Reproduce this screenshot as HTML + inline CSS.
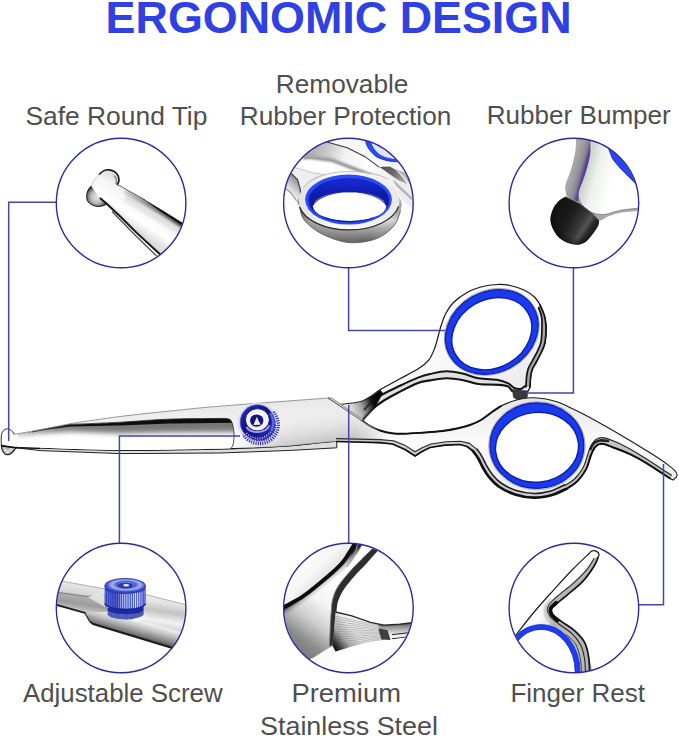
<!DOCTYPE html>
<html lang="en">
<head>
<meta charset="utf-8">
<title>Ergonomic Design</title>
<style>
  html, body { margin: 0; padding: 0; background: #ffffff; }
  body { width: 679px; height: 738px; overflow: hidden; position: relative; }
  svg { position: absolute; left: 0; top: 0; display: block; }
  text { font-family: "Liberation Sans", sans-serif; }
  .title { font-weight: 700; font-size: 44.5px; fill: #2f41e3; }
  .lbl { font-size: 26px; fill: #4f4f4f; }
</style>
</head>
<body>
<svg width="679" height="738" viewBox="0 0 679 738">
  <defs>
    <clipPath id="c1"><circle cx="121.1" cy="203" r="64.4"/></clipPath>
    <clipPath id="c2"><circle cx="348.4" cy="203" r="64.4"/></clipPath>
    <clipPath id="c3"><circle cx="573.9" cy="203" r="64.4"/></clipPath>
    <clipPath id="c4"><circle cx="121.1" cy="608" r="64.4"/></clipPath>
    <clipPath id="c5"><circle cx="348.4" cy="608" r="64.4"/></clipPath>
    <clipPath id="c6"><circle cx="573.9" cy="608" r="64.4"/></clipPath>
    
    <linearGradient id="gSilver" x1="0" y1="0" x2="1" y2="1">
      <stop offset="0" stop-color="#ffffff"/><stop offset="0.55" stop-color="#f8f8f8"/><stop offset="1" stop-color="#e4e4e4"/>
    </linearGradient>
    <linearGradient id="gBlade" x1="0" y1="0" x2="0" y2="1">
      <stop offset="0" stop-color="#e6e6e6"/><stop offset="0.45" stop-color="#fbfbfb"/><stop offset="1" stop-color="#ececec"/>
    </linearGradient>
    <linearGradient id="gBrush" gradientUnits="userSpaceOnUse" x1="345" y1="412" x2="380" y2="396">
      <stop offset="0" stop-color="#888" stop-opacity="0"/><stop offset="0.45" stop-color="#555" stop-opacity="0.55"/><stop offset="0.75" stop-color="#111" stop-opacity="1"/><stop offset="1" stop-color="#000"/>
    </linearGradient>
    <linearGradient id="gPivot" gradientUnits="userSpaceOnUse" x1="300" y1="445" x2="345" y2="400">
      <stop offset="0" stop-color="#c9c9c9"/><stop offset="0.5" stop-color="#ececec"/><stop offset="1" stop-color="#ffffff"/>
    </linearGradient>
    <filter id="bl1" x="-10%" y="-50%" width="120%" height="200%"><feGaussianBlur stdDeviation="0.6"/></filter>
    <filter id="bl2" x="-10%" y="-100%" width="120%" height="300%"><feGaussianBlur stdDeviation="1.6 2.6"/></filter>
    <filter id="bl3" x="-20%" y="-20%" width="140%" height="140%"><feGaussianBlur stdDeviation="1.2"/></filter>
    
<linearGradient id="gPv" gradientUnits="userSpaceOnUse" x1="300" y1="400" x2="306" y2="447"><stop offset="0" stop-color="#fff" stop-opacity="0"/><stop offset="0.45" stop-color="#e6e6e6" stop-opacity="0.5"/><stop offset="1" stop-color="#bcbcbc" stop-opacity="1"/></linearGradient>
<linearGradient id="gPh" gradientUnits="userSpaceOnUse" x1="236" y1="0" x2="385" y2="0"><stop offset="0" stop-color="#fff" stop-opacity="0"/><stop offset="0.3" stop-color="#fff" stop-opacity="0.9"/><stop offset="0.8" stop-color="#fff" stop-opacity="1"/><stop offset="1" stop-color="#fff" stop-opacity="0"/></linearGradient>
<mask id="mPv" maskUnits="userSpaceOnUse" x="230" y="390" width="160" height="65"><rect x="230" y="390" width="160" height="65" fill="url(#gPh)"/></mask>
<clipPath id="cpH"><path d="M18 434.5C20.3 434.1 23 433.6 31.8 432C40.6 430.4 64.2 425.8 70.7 424.6C78.9 424.2 103.5 423.3 120 422.4C136.6 421.5 152.7 419.9 170 419.3C187.3 418.7 215 418.7 224 418.6C225.2 418.9 229.3 418.1 231 420.5C232.7 422.9 233.7 428.9 234 433C234.3 437.1 233.6 442.4 233 445C232.4 447.6 230.9 447.8 230.5 448.4C212.1 448.7 155.4 450.2 120 450C84.6 449.8 35 447.5 18 447C18 444.9 18 436.6 18 434.5Z"/></clipPath>
<linearGradient id="gFade" gradientUnits="userSpaceOnUse" x1="14" y1="0" x2="240" y2="0"><stop offset="0" stop-color="#fff" stop-opacity="0"/><stop offset="0.08" stop-color="#fff" stop-opacity="0.3"/><stop offset="0.2" stop-color="#fff" stop-opacity="0.8"/><stop offset="0.3" stop-color="#fff" stop-opacity="1"/><stop offset="0.8" stop-color="#fff" stop-opacity="1"/><stop offset="1" stop-color="#fff" stop-opacity="0.8"/></linearGradient>
<mask id="mFade" maskUnits="userSpaceOnUse" x="0" y="400" width="250" height="70"><rect x="0" y="400" width="250" height="70" fill="url(#gFade)"/></mask>
<clipPath id="cpK"><path d="M285 400L285 450L235 450L235 440L262 421Z"/></clipPath>
<linearGradient id="gScr" gradientUnits="userSpaceOnUse" x1="244" y1="408" x2="272" y2="438"><stop offset="0" stop-color="#2a2ab0"/><stop offset="0.35" stop-color="#14147a"/><stop offset="0.7" stop-color="#1a1a90"/><stop offset="1" stop-color="#3434c8"/></linearGradient>

    <linearGradient id="g1body" gradientUnits="userSpaceOnUse" x1="150" y1="200" x2="132" y2="228">
      <stop offset="0" stop-color="#e2e2e2"/><stop offset="0.25" stop-color="#f6f6f6"/><stop offset="0.7" stop-color="#ffffff"/><stop offset="1" stop-color="#dedede"/>
    </linearGradient>
    <linearGradient id="g1edge" gradientUnits="userSpaceOnUse" x1="120" y1="186" x2="186" y2="224">
      <stop offset="0" stop-color="#000" stop-opacity="0.1"/><stop offset="0.45" stop-color="#000" stop-opacity="0.55"/><stop offset="1" stop-color="#000" stop-opacity="1"/>
    </linearGradient>
    <radialGradient id="g1ball" gradientUnits="userSpaceOnUse" cx="97" cy="197" r="11">
      <stop offset="0" stop-color="#e6e6e6"/><stop offset="0.6" stop-color="#b5b5b5"/><stop offset="0.88" stop-color="#6a6a6a"/><stop offset="1" stop-color="#2a2a2a"/>
    </radialGradient>
    <filter id="b1a" x="-20%" y="-20%" width="140%" height="140%"><feGaussianBlur stdDeviation="1.5"/></filter>
    <filter id="b1b" x="-20%" y="-20%" width="140%" height="140%"><feGaussianBlur stdDeviation="0.5"/></filter>
    
<clipPath id="cp1b"><path d="M101 173C103.5 170.2 106 169.6 109.2 170C113 170.4 116.4 172 118 176C119.3 179.4 118.6 182.5 117.3 184.3L118.9 184.6L128.6 190.8L144.8 199.7L161 209.4L182 222.4L192 228L192 268L170 264L157.8 252.3L136.7 232.9L120.5 216.7L106.7 203.7L98 196L91.3 186C92 183 93.5 181 94.6 179.4Z"/></clipPath>

    <linearGradient id="g2wall" gradientUnits="userSpaceOnUse" x1="0" y1="212" x2="0" y2="244">
      <stop offset="0" stop-color="#bdbdbd"/><stop offset="0.26" stop-color="#e9e9e9"/><stop offset="0.5" stop-color="#a8a8a8"/><stop offset="0.82" stop-color="#727272"/><stop offset="1" stop-color="#555"/>
    </linearGradient>
    <linearGradient id="g2wallx" gradientUnits="userSpaceOnUse" x1="298" y1="0" x2="401" y2="0">
      <stop offset="0" stop-color="#4a4a4a" stop-opacity="0.8"/><stop offset="0.12" stop-color="#6a6a6a" stop-opacity="0.5"/><stop offset="0.3" stop-color="#808080" stop-opacity="0.15"/><stop offset="0.7" stop-color="#fff" stop-opacity="0"/><stop offset="1" stop-color="#777" stop-opacity="0.35"/>
    </linearGradient>
    <linearGradient id="g2top" gradientUnits="userSpaceOnUse" x1="300" y1="0" x2="400" y2="0">
      <stop offset="0" stop-color="#e4e4e4"/><stop offset="0.4" stop-color="#fbfbfb"/><stop offset="1" stop-color="#e9e9e9"/>
    </linearGradient>
    <linearGradient id="g2blue" gradientUnits="userSpaceOnUse" x1="0" y1="176" x2="0" y2="196">
      <stop offset="0" stop-color="#1a2cd0"/><stop offset="0.5" stop-color="#1424c4"/><stop offset="1" stop-color="#0c1aa6"/>
    </linearGradient>
    <linearGradient id="g2band" gradientUnits="userSpaceOnUse" x1="302" y1="150" x2="388" y2="170">
      <stop offset="0" stop-color="#a2a2a2"/><stop offset="0.28" stop-color="#c9c9c9"/><stop offset="0.5" stop-color="#f4f4f4"/><stop offset="0.8" stop-color="#ffffff"/><stop offset="1" stop-color="#ededed"/>
    </linearGradient>
    <filter id="b2a" x="-20%" y="-40%" width="140%" height="180%"><feGaussianBlur stdDeviation="1.3"/></filter>
    
<linearGradient id="g2dk" gradientUnits="userSpaceOnUse" x1="380" y1="168" x2="404" y2="180"><stop offset="0" stop-color="#4c4c4c"/><stop offset="0.55" stop-color="#6a6a6a"/><stop offset="1" stop-color="#a5a5a5"/></linearGradient>
<linearGradient id="g2side" gradientUnits="userSpaceOnUse" x1="298" y1="180" x2="287" y2="192"><stop offset="0" stop-color="#8e8e8e"/><stop offset="0.5" stop-color="#c9c9c9"/><stop offset="1" stop-color="#f4f4f4"/></linearGradient>

    <linearGradient id="g3band" gradientUnits="userSpaceOnUse" x1="566" y1="170" x2="588" y2="176">
      <stop offset="0" stop-color="#b4b4b4"/><stop offset="0.4" stop-color="#9f9f9f"/><stop offset="0.62" stop-color="#8a8796"/><stop offset="0.8" stop-color="#5a3b90"/><stop offset="1" stop-color="#6a5698"/>
    </linearGradient>
    <linearGradient id="g3in" gradientUnits="userSpaceOnUse" x1="586" y1="175" x2="612" y2="182">
      <stop offset="0" stop-color="#cfd6cf"/><stop offset="0.35" stop-color="#eef1ee"/><stop offset="1" stop-color="#ffffff"/>
    </linearGradient>
    <linearGradient id="g3bump" gradientUnits="userSpaceOnUse" x1="556" y1="212" x2="596" y2="238">
      <stop offset="0" stop-color="#141414"/><stop offset="0.3" stop-color="#1e1e1e"/><stop offset="0.55" stop-color="#3a3a3a"/><stop offset="0.68" stop-color="#5c5c5c"/><stop offset="0.8" stop-color="#2c2c2c"/><stop offset="1" stop-color="#101010"/>
    </linearGradient>
    <radialGradient id="g3bumpv" gradientUnits="userSpaceOnUse" cx="578" cy="214" r="34">
      <stop offset="0" stop-color="#000" stop-opacity="0"/><stop offset="0.7" stop-color="#000" stop-opacity="0.15"/><stop offset="1" stop-color="#000" stop-opacity="0.7"/>
    </radialGradient>
    

    <linearGradient id="g4a" gradientUnits="userSpaceOnUse" x1="120" y1="588" x2="112" y2="640">
      <stop offset="0" stop-color="#f4f4f4"/><stop offset="0.16" stop-color="#e2e2e2"/><stop offset="0.32" stop-color="#c4c4c4"/><stop offset="0.5" stop-color="#f2f2f2"/><stop offset="0.68" stop-color="#cdcdcd"/><stop offset="0.88" stop-color="#8a8a8a"/><stop offset="1" stop-color="#555"/>
    </linearGradient>
    <linearGradient id="g4l" gradientUnits="userSpaceOnUse" x1="80" y1="584" x2="76" y2="610">
      <stop offset="0" stop-color="#e9e9e9"/><stop offset="0.36" stop-color="#d6d6d6"/><stop offset="0.46" stop-color="#b0b0b0"/><stop offset="0.75" stop-color="#9c9c9c"/><stop offset="1" stop-color="#c4c4c4"/>
    </linearGradient>
    <linearGradient id="g4low" gradientUnits="userSpaceOnUse" x1="134" y1="620" x2="129" y2="638">
      <stop offset="0" stop-color="#ececec"/><stop offset="0.3" stop-color="#c2c2c2"/><stop offset="0.7" stop-color="#7a7a7a"/><stop offset="1" stop-color="#2a2a2a"/>
    </linearGradient>
    <linearGradient id="g4body" gradientUnits="userSpaceOnUse" x1="105" y1="0" x2="146" y2="0">
      <stop offset="0" stop-color="#2b3fc2"/><stop offset="0.25" stop-color="#2236b6"/><stop offset="0.6" stop-color="#3a52d8"/><stop offset="1" stop-color="#2a3cc0"/>
    </linearGradient>
    <radialGradient id="g4cap" gradientUnits="userSpaceOnUse" cx="126" cy="585" r="20" gradientTransform="translate(0 380) scale(1 0.35)">
      <stop offset="0" stop-color="#5d6fd6"/><stop offset="0.25" stop-color="#c9d0f6"/><stop offset="0.45" stop-color="#3f52cc"/><stop offset="0.7" stop-color="#a9b4f0"/><stop offset="1" stop-color="#3a4cc6"/>
    </radialGradient>
    
<pattern id="pK" patternUnits="userSpaceOnUse" x="105" y="580" width="2.15" height="50"><rect x="0" y="0" width="0.95" height="50" fill="#f4f6ff"/></pattern>
<pattern id="pK2" patternUnits="userSpaceOnUse" x="105.6" y="580" width="2.0" height="50"><rect x="0" y="0" width="0.8" height="50" fill="#9aa6ee"/></pattern>
<linearGradient id="g4kf" gradientUnits="userSpaceOnUse" x1="105" y1="0" x2="146" y2="0"><stop offset="0" stop-color="#fff" stop-opacity="0.25"/><stop offset="0.3" stop-color="#fff" stop-opacity="0.35"/><stop offset="0.55" stop-color="#fff" stop-opacity="1"/><stop offset="0.9" stop-color="#fff" stop-opacity="0.9"/><stop offset="1" stop-color="#fff" stop-opacity="0.4"/></linearGradient>
<mask id="m4k" maskUnits="userSpaceOnUse" x="100" y="575" width="50" height="50"><rect x="100" y="575" width="50" height="50" fill="url(#g4kf)"/></mask>

    <linearGradient id="g5face" gradientUnits="userSpaceOnUse" x1="345" y1="585" x2="298" y2="650">
      <stop offset="0" stop-color="#ffffff"/><stop offset="0.35" stop-color="#f4f4f4"/><stop offset="0.6" stop-color="#cfcfcf"/><stop offset="0.85" stop-color="#8d8d8d"/><stop offset="1" stop-color="#7a7a7a"/>
    </linearGradient>
    <linearGradient id="g5ul" gradientUnits="userSpaceOnUse" x1="300" y1="560" x2="322" y2="582">
      <stop offset="0" stop-color="#ffffff"/><stop offset="0.6" stop-color="#f6f6f6"/><stop offset="1" stop-color="#e2e2e2"/>
    </linearGradient>
    <linearGradient id="g5b1" gradientUnits="userSpaceOnUse" x1="318" y1="575" x2="327" y2="586">
      <stop offset="0" stop-color="#0c0c0c"/><stop offset="0.3" stop-color="#2a2a2a"/><stop offset="0.6" stop-color="#8a8a8a" stop-opacity="0.7"/><stop offset="1" stop-color="#d0d0d0" stop-opacity="0"/>
    </linearGradient>
    <linearGradient id="g5br" gradientUnits="userSpaceOnUse" x1="336" y1="650" x2="372" y2="622">
      <stop offset="0" stop-color="#101010"/><stop offset="0.13" stop-color="#4a4a4a"/><stop offset="0.3" stop-color="#b5b5b5"/><stop offset="0.55" stop-color="#ececec"/><stop offset="1" stop-color="#fcfcfc"/>
    </linearGradient>
    <linearGradient id="g5arm" gradientUnits="userSpaceOnUse" x1="0" y1="622" x2="0" y2="636">
      <stop offset="0" stop-color="#3a3a3a"/><stop offset="0.3" stop-color="#8c8c8c"/><stop offset="0.8" stop-color="#dadada"/><stop offset="1" stop-color="#f2f2f2"/>
    </linearGradient>
    <filter id="b5a" x="-20%" y="-20%" width="140%" height="140%"><feGaussianBlur stdDeviation="0.7"/></filter>
    
<clipPath id="cp5a"><path d="M335.5 612L351 615.6L370.5 622.4L384 625.3L399.6 624.3L416 622L416 636L392 639.5L384 639.9L370.5 641.8L351 646.7L335.5 651.5L332.6 645.7Z"/></clipPath>

    <linearGradient id="g6f" gradientUnits="userSpaceOnUse" x1="540" y1="590" x2="566" y2="612">
      <stop offset="0" stop-color="#f2f2f2"/><stop offset="0.5" stop-color="#ffffff"/><stop offset="0.8" stop-color="#e9e9e9"/><stop offset="1" stop-color="#b8b8b8"/>
    </linearGradient>
    <filter id="b6a" x="-20%" y="-20%" width="140%" height="140%"><feGaussianBlur stdDeviation="0.6"/></filter>
    
  </defs>

  <!-- ===== TEXT ===== -->
  <text class="title" x="105.6" y="32.6" textLength="466" lengthAdjust="spacingAndGlyphs">ERGONOMIC DESIGN</text>
  <text class="lbl" x="25.4" y="124.6" textLength="182" lengthAdjust="spacingAndGlyphs">Safe Round Tip</text>
  <text class="lbl" x="275.8" y="93" textLength="132.6" lengthAdjust="spacingAndGlyphs">Removable</text>
  <text class="lbl" x="239.8" y="125" textLength="211.6" lengthAdjust="spacingAndGlyphs">Rubber Protection</text>
  <text class="lbl" x="486.8" y="124.2" textLength="184" lengthAdjust="spacingAndGlyphs">Rubber Bumper</text>
  <text class="lbl" x="22.9" y="702.3" textLength="199.8" lengthAdjust="spacingAndGlyphs">Adjustable Screw</text>
  <text class="lbl" x="291.4" y="702.3" textLength="109.6" lengthAdjust="spacingAndGlyphs">Premium</text>
  <text class="lbl" x="260" y="734.5" textLength="178" lengthAdjust="spacingAndGlyphs">Stainless Steel</text>
  <text class="lbl" x="510.4" y="702.3" textLength="134.6" lengthAdjust="spacingAndGlyphs">Finger Rest</text>

  <!-- ===== SCISSORS ===== -->
  <g id="scissors">
  <path d="M340 404.5C343.5 404 355.7 403 361 401.5C366.3 400 368.8 397.5 372 395.5C375.2 393.5 375.7 392.2 380.3 389.5C384.9 386.8 393.1 382.5 399.5 379C405.9 375.5 413.7 371.8 418.6 368.6C423.5 365.4 426.2 363.2 428.9 359.8C431.6 356.4 433.2 352.1 434.8 348C436.4 343.9 437.5 338.7 438.5 335C439.5 331.3 439.8 329.5 441 326C442.2 322.5 443.4 317.9 445.5 314C447.6 310.1 449.8 306.2 453.5 302.5C457.2 298.8 462.8 294.8 468 292C473.2 289.2 480 287.2 485 286C490 284.8 493.8 284.6 498 284.5C502.2 284.4 505.7 284.6 510 285.5C514.3 286.4 519.8 288 524 290C528.2 292 532 294.3 535 297.5C538 300.7 540.2 304.4 542 309C543.8 313.6 545.5 319.4 546 325C546.5 330.6 545.8 337.8 545 342.5C544.2 347.2 542.5 349.7 541 353C539.5 356.3 537.5 359.7 536 362.5C534.5 365.3 532.9 367.4 532 370C531.1 372.6 530.8 375.2 530.5 378C530.2 380.8 530.5 384.7 530 387C529.5 389.3 527.9 391.2 527.5 392C526.6 391.9 524.5 391.7 522 391.6C519.5 391.5 515 392.2 512.6 391.3C510.2 390.4 510.2 387.5 507.8 386.4C505.4 385.3 502.9 385.2 498 384.8C493.1 384.4 484.5 384.8 478.6 384C472.7 383.2 467.8 381 462.4 380C457 379 451.6 378.1 446.2 378.2C440.8 378.3 434.6 379.6 430 380.4C425.4 381.2 423.7 380.9 418.6 382.8C413.5 384.7 405.1 389 399.5 391.9C393.9 394.8 389.3 397.1 384.7 400C380.1 402.9 375.8 406 372 409.5C368.2 413 363.5 419.2 361.8 421.2C358.2 418.4 343.6 407.3 340 404.5Z" fill="url(#gSilver)" stroke="#1c1c1c" stroke-width="1.25" stroke-linejoin="round"/>
<path d="M361.8 421.2C363.5 419.2 368.2 413 372 409.5C375.8 406 380.1 402.9 384.7 400C389.3 397.1 393.9 394.8 399.5 391.9C405.1 389 413.5 384.7 418.6 382.8C423.7 380.9 425.4 381.2 430 380.4C434.6 379.6 440.8 378.3 446.2 378.2C451.6 378.1 457 379 462.4 380C467.8 381 472.7 383.2 478.6 384C484.5 384.8 493.1 384.4 498 384.8C502.9 385.2 505.4 385.3 507.8 386.4C510.2 387.5 511.8 390.5 512.6 391.3 L525.6 385.6C524.8 386.2 522.6 388.5 520.7 388.9C518.8 389.3 516.4 388.9 514.2 388C512.1 387.1 510.5 384.5 507.8 383.2C505.1 381.9 502.9 380.8 498 380C493.1 379.2 484.5 379.4 478.6 378.3C472.7 377.2 467.8 374.7 462.4 373.5C457 372.3 451.6 371.1 446.2 371.2C440.8 371.3 434.6 373 430 374C425.4 375 423.7 375.4 418.6 377.4C413.5 379.4 405.6 383.1 399.5 386C393.4 388.9 386.6 392 381.8 394.8C377.1 397.6 374 400.1 371 402.6C368 405.1 365.2 408.8 364 410 Z" fill="#e2e2e2"/>
<path d="M525.6 385.6C524.8 386.2 522.6 388.5 520.7 388.9C518.8 389.3 516.4 388.9 514.2 388C512.1 387.1 510.5 384.5 507.8 383.2C505.1 381.9 502.9 380.8 498 380C493.1 379.2 484.5 379.4 478.6 378.3C472.7 377.2 467.8 374.7 462.4 373.5C457 372.3 451.6 371.1 446.2 371.2C440.8 371.3 434.6 373 430 374C425.4 375 423.7 375.4 418.6 377.4C413.5 379.4 405.6 383.1 399.5 386C393.4 388.9 386.6 392 381.8 394.8C377.1 397.6 374 400.1 371 402.6C368 405.1 365.2 408.8 364 410" fill="none" stroke="#151515" stroke-width="2"/>
<path d="M361.8 421.2C363.5 419.2 368.2 413 372 409.5C375.8 406 380.1 402.9 384.7 400C389.3 397.1 393.9 394.8 399.5 391.9C405.1 389 413.5 384.7 418.6 382.8C423.7 380.9 425.4 381.2 430 380.4C434.6 379.6 440.8 378.3 446.2 378.2C451.6 378.1 457 379 462.4 380C467.8 381 472.7 383.2 478.6 384C484.5 384.8 493.1 384.4 498 384.8C502.9 385.2 505.4 385.3 507.8 386.4C510.2 387.5 511.8 390.5 512.6 391.3" fill="none" stroke="#151515" stroke-width="2.1"/>
<path d="M540 305C540.8 306.8 543.5 312.3 544.5 316C545.5 319.7 545.9 322.6 546 327C546.1 331.4 545.8 338.2 545 342.5C544.2 346.8 542.5 349.7 541 353C539.5 356.3 537.5 359.7 536 362.5C534.5 365.3 532.9 367.4 532 370C531.1 372.6 530.8 375.2 530.5 378C530.2 380.8 530.1 385.5 530 387 L526 386.8C526.1 385.2 526.2 380.6 526.5 377.5C526.9 374.5 527.2 371.5 528.2 368.7C529.2 365.8 530.9 363.5 532.5 360.6C534 357.7 535.9 354.5 537.4 351.4C538.8 348.2 540.3 345.8 541.1 341.7C541.8 337.7 541.9 331.2 542 327.1C542.1 323 542.2 320.3 541.6 317C541 313.7 539.1 309.1 538.6 307.5 Z" fill="#a9a9a9"/>
<path d="M538.6 307.5C539.1 309.1 541 313.7 541.6 317C542.2 320.3 542.1 323 542 327.1C541.9 331.2 541.8 337.7 541.1 341.7C540.3 345.8 538.8 348.2 537.4 351.4C535.9 354.5 534 357.7 532.5 360.6C530.9 363.5 529.2 365.8 528.2 368.7C527.2 371.5 526.9 374.5 526.5 377.5C526.2 380.6 526.1 385.2 526 386.8" fill="none" stroke="#141414" stroke-width="1.7" stroke-linecap="round"/>
<path d="M540 305C540.8 306.8 543.5 312.3 544.5 316C545.5 319.7 545.9 322.6 546 327C546.1 331.4 545.8 338.2 545 342.5C544.2 346.8 542.5 349.7 541 353C539.5 356.3 537.5 359.7 536 362.5C534.5 365.3 532.9 367.4 532 370C531.1 372.6 530.8 375.2 530.5 378C530.2 380.8 530.1 385.5 530 387" fill="none" stroke="#141414" stroke-width="1.7" stroke-linecap="round"/>
<path d="M341 405.5L361 402L372 396L380.3 390L383 393L375 408L368 416L361.8 421Z" fill="url(#gBrush)"/>
<path d="M512.4 389.6L527.6 391L527.2 397.4Q523 400.6 517.5 399.8L513.6 397.4Z" fill="#383838" stroke="#222" stroke-width="0.6"/>
<g transform="rotate(-30 491.8 331.9)"><ellipse cx="491.8" cy="331.9" rx="49.4" ry="41.4" fill="#fdfdfd" stroke="#8a8a8a" stroke-width="0.7"/><ellipse cx="491.8" cy="331.9" rx="48.2" ry="40.1" fill="#1a3aec" stroke="#0c1fb4" stroke-width="1.3"/></g>
<g transform="rotate(-30 491.8 333.7)"><ellipse cx="491.8" cy="333.7" rx="41.8" ry="34" fill="#ffffff" stroke="#0b1eb0" stroke-width="1.4"/></g>
<path d="M10 447L120 450.2L234 448.6L290.7 445.8L333 441.5L336.8 441.5L336.8 447.8L290.7 450.4L220 453L120 453.6L40 450.6Z" fill="#dedede" stroke="#222" stroke-width="1" stroke-linejoin="round"/>
<path d="M14 434.2C17 433.7 22.4 433 31.8 431.2C41.2 429.4 64.2 424.9 70.7 423.6C78.9 422.4 103.5 418.6 120 416.5C136.6 414.4 153.3 412.7 170 411C186.7 409.3 193.6 408.4 220 406.2C246.4 404 310.3 399.4 328.4 398C333.9 401.7 355.9 416.6 361.4 420.3C362.8 421.2 366.9 424.3 370 426C373.1 427.7 376.3 429.3 380 430.5C383.7 431.7 387.8 432.7 392 433.2C396.2 433.7 399.5 433.8 405 433.7C410.5 433.6 418.8 432.9 425 432.5C431.2 432.1 437.2 431.7 442.5 431C447.8 430.3 452.4 429.5 457 428.5C461.6 427.5 466 426.4 470 425C474 423.6 477.3 422.2 481 420C484.7 417.8 488.7 414.3 492 412C495.3 409.7 497.7 407.8 501 406C504.3 404.2 507.9 402.8 511.6 401.5C515.3 400.2 519.3 399.1 523 398.5C526.7 397.9 530.2 397.6 534 397.7C537.8 397.8 542.2 398.3 546 399C549.8 399.7 553.5 400.7 556.8 401.8C560.1 402.9 561.7 403.6 566 405.6C570.3 407.6 575 409.6 582.8 413.7C590.6 417.8 601.8 424 612.6 430.3C623.4 436.6 638.2 445.5 647.6 451.3C657 457.1 664.1 462 668.7 465.4C673.4 468.8 674.1 469.8 675.5 471.5C676.9 473.2 677.2 474.3 677 475.5C676.8 476.7 675.6 478.1 674.5 478.6C673.4 479.1 674.9 481.2 670.4 478.7C665.9 476.2 654.3 467.9 647.6 463.8C640.9 459.7 635.8 457 630 454.2C624.2 451.4 617.3 448.9 612.6 447.2C607.9 445.4 604.9 443.8 602 443.7C599.1 443.6 597.3 444.6 595.5 446.5C593.7 448.4 592.5 451.3 591 455C589.5 458.7 588.5 464.6 586.3 468.9C584 473.2 580.7 477.7 577.5 481C574.3 484.3 571.2 486.2 567 488.5C562.8 490.8 557.5 493.5 552 495C546.5 496.5 540.2 497.8 534 497.7C527.8 497.6 520.9 496.4 515 494.5C509.1 492.6 503 489.4 498.7 486.5C494.4 483.6 491.7 480.2 489 477C486.3 473.8 484.4 470.2 482.6 467C480.8 463.8 479.6 460.7 478 458C476.4 455.3 474.8 452.9 473 451C471.2 449.1 469.2 447.6 467 446.5C464.8 445.4 463.7 444.7 460 444.5C456.3 444.3 450 444.7 445 445.2C440 445.7 433.8 446.4 430 447.5C426.2 448.6 424.5 450.1 422 451.5C419.5 452.9 416.2 455.2 415 456C413.3 454.9 408.8 451.5 405 449.5C401.2 447.5 396.7 445.1 392.5 444C388.3 442.9 389.9 443.1 380 442.7C370.1 442.3 347.9 441 333 441.5C318.1 442 307.2 444.6 290.7 445.8C274.2 447 262.4 447.8 234 448.6C205.6 449.4 156.7 450.6 120 450.4C83.3 450.2 31.7 447.7 14 447.2C14 445 14 436.4 14 434.2Z" fill="url(#gBlade)"/>
<path d="M14 434.2C17 433.7 22.4 433 31.8 431.2C41.2 429.4 64.2 424.9 70.7 423.6C78.9 422.4 103.5 418.6 120 416.5C136.6 414.4 153.3 412.7 170 411C186.7 409.3 193.6 408.4 220 406.2C246.4 404 310.3 399.4 328.4 398C333.9 401.7 355.9 416.6 361.4 420.3" fill="none" stroke="#8c8c8c" stroke-width="0.9" stroke-linejoin="round"/>
<path d="M328.4 398C333.9 401.7 355.9 416.6 361.4 420.3C362.8 421.2 366.9 424.3 370 426C373.1 427.7 376.3 429.3 380 430.5C383.7 431.7 387.8 432.7 392 433.2C396.2 433.7 399.5 433.8 405 433.7C410.5 433.6 418.8 432.9 425 432.5C431.2 432.1 437.2 431.7 442.5 431C447.8 430.3 452.4 429.5 457 428.5C461.6 427.5 466 426.4 470 425C474 423.6 477.3 422.2 481 420C484.7 417.8 488.7 414.3 492 412C495.3 409.7 497.7 407.8 501 406C504.3 404.2 507.9 402.8 511.6 401.5C515.3 400.2 519.3 399.1 523 398.5C526.7 397.9 530.2 397.6 534 397.7C537.8 397.8 542.2 398.3 546 399C549.8 399.7 553.5 400.7 556.8 401.8C560.1 402.9 561.7 403.6 566 405.6C570.3 407.6 575 409.6 582.8 413.7C590.6 417.8 601.8 424 612.6 430.3C623.4 436.6 638.2 445.5 647.6 451.3C657 457.1 664.1 462 668.7 465.4C673.4 468.8 674.1 469.8 675.5 471.5C676.9 473.2 677.2 474.3 677 475.5C676.8 476.7 675.6 478.1 674.5 478.6C673.4 479.1 674.9 481.2 670.4 478.7C665.9 476.2 654.3 467.9 647.6 463.8C640.9 459.7 635.8 457 630 454.2C624.2 451.4 617.3 448.9 612.6 447.2C607.9 445.4 604.9 443.8 602 443.7C599.1 443.6 597.3 444.6 595.5 446.5C593.7 448.4 592.5 451.3 591 455C589.5 458.7 588.5 464.6 586.3 468.9C584 473.2 580.7 477.7 577.5 481C574.3 484.3 571.2 486.2 567 488.5C562.8 490.8 557.5 493.5 552 495C546.5 496.5 540.2 497.8 534 497.7C527.8 497.6 520.9 496.4 515 494.5C509.1 492.6 503 489.4 498.7 486.5C494.4 483.6 491.7 480.2 489 477C486.3 473.8 484.4 470.2 482.6 467C480.8 463.8 479.6 460.7 478 458C476.4 455.3 474.8 452.9 473 451C471.2 449.1 469.2 447.6 467 446.5C464.8 445.4 463.7 444.7 460 444.5C456.3 444.3 450 444.7 445 445.2C440 445.7 433.8 446.4 430 447.5C426.2 448.6 424.5 450.1 422 451.5C419.5 452.9 416.2 455.2 415 456C413.3 454.9 408.8 451.5 405 449.5C401.2 447.5 396.7 445.1 392.5 444C388.3 442.9 389.9 443.1 380 442.7C370.1 442.3 347.9 441 333 441.5C318.1 442 307.2 444.6 290.7 445.8C274.2 447 262.4 447.8 234 448.6C205.6 449.4 156.7 450.6 120 450.4C83.3 450.2 31.7 447.7 14 447.2" fill="none" stroke="#1c1c1c" stroke-width="1.1" stroke-linejoin="round"/>
<path d="M361.4 420.3C362.8 421.2 366.9 424.3 370 426C373.1 427.7 376.3 429.3 380 430.5C383.7 431.7 387.8 432.7 392 433.2C396.2 433.7 399.5 433.8 405 433.7C410.5 433.6 418.8 432.9 425 432.5C431.2 432.1 437.2 431.7 442.5 431C447.8 430.3 452.4 429.5 457 428.5C461.6 427.5 466 426.4 470 425C474 423.6 477.3 422.2 481 420C484.7 417.8 488.7 414.3 492 412C495.3 409.7 499.5 407 501 406" fill="none" stroke="#111" stroke-width="1.9" stroke-linecap="round"/>
<g mask="url(#mPv)"><path d="M236 449L290.7 445.8L333 441.5L380 442.7L392 443.8L380 430.5L361.4 420.3L328.4 398L236 405Z" fill="url(#gPv)"/></g>
<path d="M328.4 398L331.6 397.8L363.6 419.8L361.4 420.3Z" fill="#cfcfcf" stroke="#555" stroke-width="0.5"/>
<g clip-path="url(#cpH)"><rect x="10" y="410" width="235" height="45" fill="#ffffff"/><path d="M18 433L31.8 430.5L70.7 423.2L120 421L170 418L240 417.2L240 432L170 432.6L120 433.4L70.7 431.4L40 433L18 435Z" fill="#565656" filter="url(#bl2)" opacity="0.8"/><path d="M18 433L31.8 430.5L70.7 423.2L120 421L170 418L240 417.2L240 422.6L170 423.4L120 425.6L70.7 426.4L40 430.6L18 434.4Z" fill="#0e0e0e" filter="url(#bl1)"/></g>
<path d="M31.8 432C38.3 430.7 64.2 425.7 70.7 424.4C78.9 424 103.5 423.1 120 422.2C136.6 421.3 152.7 419.7 170 419.1C187.3 418.5 215 418.5 224 418.4C225.2 418.8 229.3 418.1 231 420.5C232.7 422.9 233.7 428.9 234 433C234.3 437.1 233.6 442.4 233 445C232.4 447.6 230.9 447.8 230.5 448.4" fill="none" stroke="#2a2a2a" stroke-width="0.8"/>
<path d="M14.2 434.3C12.6 430.4 9 428.5 6.4 429C3 429.8 1.2 433 1.2 438C1.2 441.5 1.3 443.5 1.4 445.6L15.9 447.6Z" fill="#fdfdfd"/>
<path d="M14.2 434.3C12.6 430.4 9 428.5 6.4 429C3 429.8 1.2 433 1.2 438C1.2 441.5 1.3 443.5 1.4 445.6" fill="none" stroke="#2a2a2a" stroke-width="1"/>
<path d="M1.3 445.4C1.6 450.4 4 454.8 7.4 454.8C11 454.6 14 451 16 447.6Z" fill="#b9b9b9" stroke="#1a1a1a" stroke-width="1.1" stroke-linejoin="round"/>
<path d="M4.4 448.6L7.6 452.4L12 448.4" fill="none" stroke="#f0f0f0" stroke-width="1.3"/>
<path d="M2 446.2L16 447.8L40 448.4" fill="none" stroke="#111" stroke-width="1.3"/>
<path d="M336 441.5L380 442.7L392.5 444L405 449.5L415 456L422 451.5L430 447.5L445 445.2L460 444.5L467 446.5L473 451 L476 448.6L469.5 443.4L460.5 441.2L446 441.8L431 444L422.5 447.6L415 451.8L405.5 445.6L393.5 440.8L380 439.6L336 438.6 Z" fill="#cdcdcd"/>
<path d="M336 438.6L380 439.6L393.5 440.8L405.5 445.6L415 451.8L422.5 447.6L431 444L446 441.8L460.5 441.2L469.5 443.4L476 448.6" fill="none" stroke="#2a2a2a" stroke-width="1.1" stroke-linejoin="round"/>
<path d="M336 441.5L380 442.7L392.5 444L405 449.5L415 456L422 451.5L430 447.5L445 445.2L460 444.5L467 446.5L473 451" fill="none" stroke="#111" stroke-width="1.7" stroke-linejoin="round"/>
<path d="M473 451C473.8 452.2 476.4 455.3 478 458C479.6 460.7 480.8 463.8 482.6 467C484.4 470.2 486.3 473.8 489 477C491.7 480.2 494.4 483.6 498.7 486.5C503 489.4 509.1 492.6 515 494.5C520.9 496.4 527.8 497.6 534 497.7C540.2 497.8 546.5 496.5 552 495C557.5 493.5 564.5 489.6 567 488.5 L565.3 484.6C562.9 485.7 556.1 489.5 550.9 491C545.7 492.4 539.8 493.6 534.1 493.5C528.3 493.4 521.8 492.2 516.3 490.5C510.8 488.7 505.1 485.7 501 483C497 480.3 494.7 477.3 492.2 474.3C489.8 471.3 488 468 486.2 464.9C484.5 461.8 483.2 458.6 481.6 455.8C480 453.1 477.3 449.8 476.4 448.6 Z" fill="#cbcbcb"/>
<path d="M476.4 448.6C477.3 449.8 480 453.1 481.6 455.8C483.2 458.6 484.5 461.8 486.2 464.9C488 468 489.8 471.3 492.2 474.3C494.7 477.3 497 480.3 501 483C505.1 485.7 510.8 488.7 516.3 490.5C521.8 492.2 528.3 493.4 534.1 493.5C539.8 493.6 545.7 492.4 550.9 491C556.1 489.5 562.9 485.7 565.3 484.6" fill="none" stroke="#222" stroke-width="1.6"/>
<path d="M473 451C473.8 452.2 476.4 455.3 478 458C479.6 460.7 480.8 463.8 482.6 467C484.4 470.2 486.3 473.8 489 477C491.7 480.2 494.4 483.6 498.7 486.5C503 489.4 509.1 492.6 515 494.5C520.9 496.4 527.8 497.6 534 497.7C540.2 497.8 546.5 496.5 552 495C557.5 493.5 564.5 489.6 567 488.5" fill="none" stroke="#0e0e0e" stroke-width="2.7" stroke-linecap="round"/>
<path d="M567 488.5C568.8 487.2 574.3 484.3 577.5 481C580.7 477.7 584 473.2 586.3 468.9C588.5 464.6 589.5 458.7 591 455C592.5 451.3 593.7 448.4 595.5 446.5C597.3 444.6 599.1 443.6 602 443.7C604.9 443.8 607.9 445.4 612.6 447.2C617.3 448.9 624.2 451.4 630 454.2C635.8 457 640.9 459.7 647.6 463.8C654.3 467.9 666.6 476.2 670.4 478.7 L672 475.5C670.3 474.4 667.1 472.4 661.6 468.9C656.1 465.3 646.2 458.5 638.9 454.2C631.6 449.9 623.6 445.5 617.8 442.8C612 440.1 607.6 438.4 604 437.8C600.4 437.2 598.2 438 596 439.5C593.8 441 591.9 444.4 590.5 447C589.1 449.6 588.8 451.6 587.6 455C586.4 458.4 585.3 463.6 583.2 467.5C581.1 471.4 578 475.5 575 478.5C572 481.5 566.7 484.3 565 485.5 Z" fill="#c4c4c4"/>
<path d="M567 488.5C568.8 487.2 574.3 484.3 577.5 481C580.7 477.7 584 473.2 586.3 468.9C588.5 464.6 589.5 458.7 591 455C592.5 451.3 593.7 448.4 595.5 446.5C597.3 444.6 599.1 443.6 602 443.7C604.9 443.8 607.9 445.4 612.6 447.2C617.3 448.9 624.2 451.4 630 454.2C635.8 457 640.9 459.7 647.6 463.8C654.3 467.9 666.6 476.2 670.4 478.7" fill="none" stroke="#101010" stroke-width="2"/>
<path d="M672 475.5C670.3 474.4 667.1 472.4 661.6 468.9C656.1 465.3 646.2 458.5 638.9 454.2C631.6 449.9 623.6 445.5 617.8 442.8C612 440.1 607.6 438.4 604 437.8C600.4 437.2 598.2 438 596 439.5C593.8 441 591.9 444.4 590.5 447C589.1 449.6 588.8 451.6 587.6 455C586.4 458.4 585.3 463.6 583.2 467.5C581.1 471.4 578 475.5 575 478.5C572 481.5 566.7 484.3 565 485.5" fill="none" stroke="#2a2a2a" stroke-width="1.2"/>
<path d="M590.5 449C591 448.1 591.9 444.9 593.5 443.5C595.1 442.1 597.6 440.9 600 440.5C602.4 440.1 606.7 440.9 608 441" fill="none" stroke="#222" stroke-width="2.6" stroke-linecap="round" filter="url(#bl1)"/>
<ellipse cx="536.9" cy="445.7" rx="48.3" ry="44.1" fill="#fdfdfd" stroke="#8a8a8a" stroke-width="0.7"/>
<ellipse cx="536.9" cy="445.7" rx="46.9" ry="42.7" fill="#1a3aec" stroke="#0c1fb4" stroke-width="1.3"/>
<g transform="rotate(-6 537 447.3)"><ellipse cx="537" cy="447.3" rx="41.6" ry="34.9" fill="#ffffff" stroke="#0b1eb0" stroke-width="1.4"/></g>
<g><circle cx="257.6" cy="422.6" r="20" fill="#dcdcf8" opacity="0.9"/><g clip-path="url(#cpK)"><circle cx="259.4" cy="424.8" r="18.8" fill="#e4e4fb" stroke="#2a2aa0" stroke-width="3.4" stroke-dasharray="1.1 1.2"/><circle cx="259.4" cy="424.8" r="16.6" fill="#2626a0"/></g><ellipse cx="257.4" cy="422.2" rx="17.2" ry="17.4" fill="url(#gScr)"/><ellipse cx="257.4" cy="422.2" rx="17.2" ry="17.4" fill="none" stroke="#5a5ae6" stroke-width="0.9" opacity="0.7"/><g clip-path="url(#cpK)"><circle cx="258" cy="422.8" r="15.4" fill="none" stroke="#e9e9ff" stroke-width="1.5" stroke-dasharray="0.9 1.5" opacity="0.85"/><circle cx="258.6" cy="423.6" r="17.4" fill="none" stroke="#e9e9ff" stroke-width="1.4" stroke-dasharray="0.9 1.6" opacity="0.85"/></g><path d="M270.5 414C273.5 419 273.6 425 271.4 430" fill="none" stroke="#5a6af6" stroke-width="2.2" stroke-linecap="round" opacity="0.9"/><ellipse cx="257.4" cy="419.8" rx="12" ry="11.2" fill="#f4f4fc" stroke="#0d0d6a" stroke-width="1"/><path d="M246.5 427C250 433.5 265 434.5 269.5 425.5" fill="none" stroke="#9a9aec" stroke-width="2"/><ellipse cx="256.7" cy="420.6" rx="6.7" ry="6.1" fill="#15157a"/><path d="M256.8 417L260.6 424.8L253.4 425Z" fill="#eeeefb"/></g>
  </g>

  <!-- ===== CONNECTORS ===== -->
  <g fill="none" stroke="#4646a8" stroke-width="1.5">
    <path d="M56.5 202.3 H8.7 V441"/>
    <path d="M348.6 267.5 V330.5 H445"/>
    <path d="M573.4 267.5 V393.1 H526"/>
    <path d="M119.4 543.5 V436 H240"/>
    <path d="M348.7 543.5 V405"/>
    <path d="M638.5 604.8 H663.5 V464"/>
  </g>

  <!-- ===== DETAIL CIRCLES ===== -->
  <g clip-path="url(#c1)"><path d="M91.3 186C87.5 189 85.6 195 87.3 200.5C89 204.5 96 207.4 101 206.2C104 205.6 106 204.6 107.5 203.5L100 192Z" fill="url(#g1ball)" stroke="#1e1e1e" stroke-width="1"/>
<path d="M101 173C103.5 170.2 106 169.6 109.2 170C113 170.4 116.4 172 118 176C119.3 179.4 118.6 182.5 117.3 184.3L118.9 184.6L128.6 190.8L144.8 199.7L161 209.4L182 222.4L192 228L192 268L170 264L157.8 252.3L136.7 232.9L120.5 216.7L106.7 203.7L98 196L91.3 186C92 183 93.5 181 94.6 179.4Z" fill="url(#g1body)"/>
<g clip-path="url(#cp1b)"><path d="M126 189L144.8 199.7L161 209.4L182 222.4L192 228" fill="none" stroke="url(#g1edge)" stroke-width="5.5" filter="url(#b1a)" transform="translate(-1 1.8)" opacity="0.8"/><path d="M128 192L150 205L165 214.5L184 225.5" fill="none" stroke="#888" stroke-width="7" filter="url(#b1a)" transform="translate(-3 6)" opacity="0.18"/><path d="M104 204L120.5 219.7L136.7 235.9L157.8 255.3" fill="none" stroke="#999" stroke-width="5" filter="url(#b1a)" opacity="0.55"/></g>
<path d="M99.5 174.2C103 170.3 106 169.4 109.2 169.8C113.2 170.3 116.6 172 118.2 176C119.5 179.4 118.8 182.5 117.3 184.5" fill="none" stroke="#1a1a1a" stroke-width="1.7" stroke-linecap="round" filter="url(#b1b)"/>
<path d="M114 175.5C116.5 178 117 181.5 116 184" fill="none" stroke="#888" stroke-width="1.6" filter="url(#b1b)"/>
<path d="M117.3 184.3L128.6 190.8L144.8 199.7" fill="none" stroke="#555" stroke-width="0.9"/>
<path d="M140 197L161 209.4L182 222.4L192 228L192 231L182 225.2L161 211.8Z" fill="#111" filter="url(#b1b)"/>
<path d="M100 198L106.7 203.7L120.5 216.7L136.7 232.9L157.8 252.3L170 264" fill="none" stroke="#161616" stroke-width="2" filter="url(#b1b)"/>
<path d="M112 211.5L134 234L154 253.5L168 267" fill="none" stroke="#444" stroke-width="1.1"/>
<path d="M99.5 174.2C96 177.5 93 181.5 91.3 186" fill="none" stroke="#bbb" stroke-width="0.8"/></g>
  <g clip-path="url(#c2)"><path d="M320 135L420 135L420 170L400 172L379.2 167L364.6 156.4L347 147.7L329.7 142.8Z" fill="#f7f7f7"/>
<path d="M365.3 139C366 146 369.4 151 376 156.4C383 160.4 391 161.8 399.6 161.8L412 160.6L412 157.6L401 159.2C393 159.2 386 157.8 380.6 154.8C375.4 151.2 372 146 370.6 139Z" fill="#2a4cf0"/>
<path d="M370.6 139C372 146 375.4 151.2 380.6 154.8C386 157.8 393 159.2 401 159.2L412 157.6L412 153.6L401 155C394 154.8 388.4 153.4 384 150.6C379.6 147.4 377 143.6 375.6 139Z" fill="#dfe5ff"/>
<path d="M365.3 139C366 146 369.4 151 376 156.4C383 160.4 391 161.8 399.6 161.8L412 160.6" fill="none" stroke="#1a2fc4" stroke-width="0.9"/>
<path d="M379.2 167C386 166 392 167 398 169.5L420 182L420 215L402 200L393 185L384 176Z" fill="#ececec"/>
<path d="M378.8 167.1L389.7 166.4L396 170L403.2 177.9L407 184L399.2 180.6L391 175.2L385.6 172.5Z" fill="url(#g2dk)" filter="url(#b1b)"/>
<path d="M396 169.4L404 176.4L412 186.4L414 181L405 172.4Z" fill="#b4b4b4" filter="url(#b1b)"/>
<path d="M393 181L412 199" fill="none" stroke="#b0b0b0" stroke-width="2.4" filter="url(#b1b)"/>
<path d="M300 157L308.3 155.5L331.6 158.4L356.9 168.1L374.4 174.9L384 178L392 176L384 170L379.2 167.1L364.6 156.4L347.2 147.7L329.7 142.8L316 140L300 148Z" fill="url(#g2band)"/>
<path d="M303 158.2L308.3 157.2L331.6 160.1L356.9 169.8L374.4 176.6" fill="none" stroke="#8a8a8a" stroke-width="3.2" filter="url(#b2a)"/>
<path d="M322 141L329.7 142.8L347.2 147.7L364.6 156.4L379.2 167.1" fill="none" stroke="#3a3a3a" stroke-width="1.1"/>
<path d="M281 176L291.5 173.7L297.6 179.8L300.3 189.3L301 199L298 204L293 196L287 190L281 188Z" fill="url(#g2side)"/>
<path d="M282 187.4C287 188.6 292 193 296.6 201" fill="none" stroke="#9a9a9a" stroke-width="1.2" filter="url(#b1b)"/>
<path d="M284 166L294.9 167.6L313.8 173L330 176L312 186L301.7 193.3L300.3 189.3L297.6 179.8L291.5 173.7L284 170Z" fill="#efefef"/>
<path d="M288.4 166.6L294.9 167.6L313.8 173L326 174.6" fill="none" stroke="#c2c2c2" stroke-width="0.9"/>
<path d="M287 170.6L291.5 173.7L297.6 179.8L300.3 189.3L300.8 199" fill="none" stroke="#3c3c3c" stroke-width="1.2"/>
<path d="M298.5 199C296.2 203.4 298.5 203.1 299.5 206.7C300.5 210.2 300.7 215.8 304.4 220.3C308.1 224.8 314.5 230.2 321.9 233.9C329.3 237.6 339.9 241.8 349 242.6C358.1 243.4 368.8 241.5 376.3 238.7C383.8 235.9 389.8 230.7 393.8 226C397.9 221.3 399.6 215.1 400.6 210.6C401.6 206.1 402.6 204.1 400 199C397.4 193.9 393.5 184.5 385 180C376.5 175.5 361 172 349 172C337 172 321.4 175.5 313 180C304.6 184.5 300.8 194.6 298.5 199Z" fill="url(#g2wall)"/>
<path d="M298.5 199C296.2 203.4 298.5 203.1 299.5 206.7C300.5 210.2 300.7 215.8 304.4 220.3C308.1 224.8 314.5 230.2 321.9 233.9C329.3 237.6 339.9 241.8 349 242.6C358.1 243.4 368.8 241.5 376.3 238.7C383.8 235.9 389.8 230.7 393.8 226C397.9 221.3 399.6 215.1 400.6 210.6C401.6 206.1 402.6 204.1 400 199C397.4 193.9 393.5 184.5 385 180C376.5 175.5 361 172 349 172C337 172 321.4 175.5 313 180C304.6 184.5 300.8 194.6 298.5 199Z" fill="url(#g2wallx)"/>
<path d="M299.5 206.7C300.3 209 300.7 215.8 304.4 220.3C308.1 224.8 314.5 230.2 321.9 233.9C329.3 237.6 339.9 241.8 349 242.6C358.1 243.4 368.8 241.5 376.3 238.7C383.8 235.9 389.8 230.7 393.8 226C397.9 221.3 399.5 213.2 400.6 210.6" fill="none" stroke="#5a5a5a" stroke-width="0.8"/>
<path d="M368 176L377 171.5L384 172.5L392 178L398 190L392 196L380 186Z" fill="#f3f3f3"/>
<ellipse cx="349" cy="200.5" rx="50.5" ry="29" fill="url(#g2top)"/>
<path d="M299.6 207A50.5 29 0 0 0 398.6 206.4" fill="none" stroke="#2c2c2c" stroke-width="1.3"/>
<path d="M303 188C309 178 326 172 349 171.5C366 171.6 378 174 388 179" fill="none" stroke="#b9b9b9" stroke-width="0.9"/>
<ellipse cx="348.5" cy="199.6" rx="43.4" ry="25" fill="#2a4cf6"/>
<ellipse cx="348.8" cy="200.2" rx="40.4" ry="22.2" fill="url(#g2blue)"/>
<ellipse cx="349.6" cy="206.3" rx="36.6" ry="14.6" fill="#ffffff"/>
<path d="M313.2 205C318 197 332 192 349.6 191.7C367 192 381 197 386 205" fill="none" stroke="#0a1490" stroke-width="1.2" opacity="0.8"/></g>
  <g clip-path="url(#c3)"><path d="M590.5 136L645 136L645 208L619.6 210.5L605.8 214.3L595.1 213.6L586 209L579.8 201.3L579 192.1L584.4 176.8L589.8 156.9Z" fill="url(#g3in)"/>
<path d="M606.5 143C607 144.4 608.5 148.7 609.7 151.5C610.9 154.3 611.3 156.8 613.5 160C615.7 163.2 619.4 167.1 622.7 170.7C626 174.3 630.4 178.2 633.4 181.4C636.4 184.6 639.7 188.6 641 190C642.2 188.3 646.8 181.7 648 180C646.7 175 641.3 155 640 150C634.4 148.8 612.1 144.2 606.5 143Z" fill="#2a44ee"/>
<path d="M606.5 143C607 144.4 608.5 148.7 609.7 151.5C610.9 154.3 611.3 156.8 613.5 160C615.7 163.2 619.4 167.1 622.7 170.7C626 174.3 630.4 178.2 633.4 181.4C636.4 184.6 639.7 188.6 641 190" fill="none" stroke="#1a2cc0" stroke-width="1"/>
<path d="M576 134C576 134.8 576.1 135.4 576 138.5C575.9 141.6 576.1 146.9 575.2 152.3C574.3 157.7 572.2 165.1 570.6 170.7C569 176.3 565.9 181.6 565.3 186C564.7 190.4 566.5 195.2 566.8 197 L580.5 203C580.4 202.7 580 203.1 579.8 201.3C579.5 199.5 578.2 196.2 579 192.1C579.8 188 582.6 182.7 584.4 176.8C586.2 170.9 588.8 162.8 589.8 156.9C590.8 151 590.4 145.4 590.5 141.6C590.6 137.8 590.5 135.3 590.5 134 Z" fill="url(#g3band)"/>
<path d="M578.5 196C578.7 196.9 578.5 199.1 579.8 201.3C581 203.5 583.5 206.9 586 209C588.5 211.1 591.8 212.7 595.1 213.6C598.4 214.5 601.7 214.8 605.8 214.3C609.9 213.8 613.9 211.6 619.6 210.5C625.3 209.4 636.6 208.4 640 208 L640 210.6C636.6 211 625 211.9 619.6 212.9C614.2 213.9 610.8 215.4 607.4 216.7C604 218 601.9 220.9 599 220.6C596.1 220.3 593.5 217.4 590 215C586.5 212.6 580 207.5 578 206 Z" fill="#a9a9a9"/>
<path d="M578.5 196C578.7 196.9 578.5 199.1 579.8 201.3C581 203.5 583.5 206.9 586 209C588.5 211.1 591.8 212.7 595.1 213.6C598.4 214.5 601.7 214.8 605.8 214.3C609.9 213.8 613.9 211.6 619.6 210.5C625.3 209.4 636.6 208.4 640 208" fill="none" stroke="#7a7a86" stroke-width="0.8"/>
<path d="M565.3 196.7C567.5 197.7 574.1 200.2 578.3 202.8C582.5 205.4 587 209.1 590.5 212C594 214.9 597.6 219.1 599 220.5C598.9 221.4 599.4 223.4 598.2 225.8C597 228.2 594.3 232.2 592 235C589.7 237.8 587.4 241.1 584.4 242.7C581.4 244.3 577.5 245.1 573.7 244.6C569.9 244.1 564.7 242 561.4 239.6C558.1 237.2 555.6 233.7 553.8 230.4C552 227.1 550.5 223.3 550.4 219.7C550.3 216.1 551.7 212.1 553 209C554.3 205.9 556.4 203.4 558.4 201.3C560.4 199.2 564.1 197.5 565.3 196.7Z" fill="url(#g3bump)"/>
<path d="M565.3 196.7C567.5 197.7 574.1 200.2 578.3 202.8C582.5 205.4 587 209.1 590.5 212C594 214.9 597.6 219.1 599 220.5C598.9 221.4 599.4 223.4 598.2 225.8C597 228.2 594.3 232.2 592 235C589.7 237.8 587.4 241.1 584.4 242.7C581.4 244.3 577.5 245.1 573.7 244.6C569.9 244.1 564.7 242 561.4 239.6C558.1 237.2 555.6 233.7 553.8 230.4C552 227.1 550.5 223.3 550.4 219.7C550.3 216.1 551.7 212.1 553 209C554.3 205.9 556.4 203.4 558.4 201.3C560.4 199.2 564.1 197.5 565.3 196.7Z" fill="url(#g3bumpv)"/>
<path d="M565.3 196.9L578.3 203L590.5 212.2L598.8 220.5" fill="none" stroke="#4a4a4a" stroke-width="1"/></g>
  <g clip-path="url(#c4)"><path d="M50 579L61 581L104.7 588.9L146.5 594.8L182.2 603.8L192 606.4L192 655L171.6 647.4L93.3 623.7L85 613L50 603.4Z" fill="url(#g4a)"/>
<path d="M50 579L61 581L104.7 588.9L113 590.3L112 612L85 613L50 603.4Z" fill="url(#g4l)"/>
<path d="M54 592L86 596.4L106 596.2" fill="none" stroke="#777" stroke-width="0.9"/>
<path d="M52 603.6L85 612.8L90 621.5" fill="none" stroke="#1e1e1e" stroke-width="1.8" stroke-linejoin="round"/>
<path d="M88 597.2L103.6 590.6L105 607Z" fill="#e4e4e4" opacity="0.9"/>
<path d="M85 613L93.3 623.7L171.6 647.4L186 652L188 634L112 611.5Z" fill="url(#g4low)"/>
<path d="M85 613L90 621.5L93.3 623.7" fill="none" stroke="#555" stroke-width="1"/>
<path d="M90 621.5L93.3 624L171.6 647.7L186 652.3" fill="none" stroke="#1c1c1c" stroke-width="2"/>
<path d="M52 579.4L61 581L104.7 588.9L146.5 594.8L182.2 603.8L190 606" fill="none" stroke="#a9a9a9" stroke-width="0.9"/>
<path d="M107.7 608L107.7 614.5C110 620.5 141 621.5 143.6 614.5L143.6 607Z" fill="#1c2a9c"/>
<path d="M107.7 610L107.7 614.5C110 620.5 141 621.5 143.6 614.5L143.6 610C141 616 110 615 107.7 610Z" fill="url(#pK2)"/>
<path d="M134 618.6C139 618 143 616.4 144.6 613.6L145.4 617.4C143.4 620.4 138 621.6 133 621.6Z" fill="#f6f6fa"/>
<path d="M104.7 586L104.7 604C108 611.5 142 612.5 145.6 604L145.6 586Z" fill="url(#g4body)"/>
<g mask="url(#m4k)"><path d="M104.7 589.5L104.7 602.6C108 610 142 611 145.6 602.6L145.6 589C141 595.6 110 595.6 104.7 589.5Z" fill="url(#pK)"/></g>
<path d="M104.7 603.6C108 611.2 142 612.2 145.6 603.6" fill="none" stroke="#16228a" stroke-width="1.2"/>
<ellipse cx="125.1" cy="585.8" rx="20.4" ry="7.3" fill="url(#g4cap)" stroke="#2c3cb4" stroke-width="1"/>
<ellipse cx="125.6" cy="585.4" rx="7.6" ry="2.9" fill="#2c3aa8"/>
<ellipse cx="126.2" cy="585.3" rx="3" ry="1.3" fill="#e8ecff"/></g>
  <g clip-path="url(#c5)"><path d="M280 540L353 540L353 544.9L349 549.7L339.4 563.3L321.9 578.9L302.4 594.4L284 605L280 607Z" fill="url(#g5ul)"/>
<path d="M353 540C356.8 540 372.2 540 376 540C375.9 541.8 377.2 547.1 375.3 550.7C373.4 554.3 368.7 557.4 364.6 561.4C360.6 565.4 355.2 570.5 351 575C346.8 579.5 342.2 584.4 339.4 588.6C336.5 592.8 335 596.7 333.9 600.3C332.8 603.9 333 605.9 332.6 610C332.2 614.1 331.9 619 331.6 625C331.3 631 331.1 642.2 331 645.7C327.8 647.8 315.2 656.2 312 658.3C308.3 660.6 293.7 669.7 290 672C288 668.3 280 653.7 278 650C278.3 642.8 279.7 614.2 280 607C280.7 606.7 283.3 605.3 284 605C287.1 603.2 296.1 598.8 302.4 594.4C308.7 590 315.7 584.1 321.9 578.9C328.1 573.7 334.9 568.2 339.4 563.3C343.9 558.4 346.7 553.6 349 549.7C351.3 545.8 352.3 541.6 353 540Z" fill="url(#g5face)"/>
<path d="M280 607.5C280.7 607.1 280.3 607.2 284 605C287.7 602.8 296.1 598.8 302.4 594.4C308.7 590 315.7 584.1 321.9 578.9C328.1 573.7 334.9 568.2 339.4 563.3C343.9 558.4 346.7 553.1 349 549.7C351.3 546.3 352.3 544.1 353 543 L362 545C361.2 546.5 359.5 550 357 554C354.5 558 351.5 563.7 347 569C342.5 574.3 336.2 580.6 330 586C323.8 591.4 316.5 597 310 601.5C303.5 606 296 610.1 291 613C286 615.9 281.8 618 280 619 Z" fill="url(#g5b1)"/>
<path d="M280 607.5C280.7 607.1 280.3 607.2 284 605C287.7 602.8 296.1 598.8 302.4 594.4C308.7 590 315.7 584.1 321.9 578.9C328.1 573.7 334.9 568.2 339.4 563.3C343.9 558.4 346.7 553.1 349 549.7C351.3 546.3 352.3 544.1 353 543 L356.4 544C355.7 545.3 354.4 548.4 352 552C349.6 555.6 346.8 560.8 342.2 565.8C337.6 570.8 330.9 576.5 324.6 581.8C318.3 587.1 311 593.1 304.6 597.6C298.2 602.1 290.1 606.3 286 608.6C281.9 610.9 281 611.1 280 611.6 Z" fill="#0b0b0b" filter="url(#b5a)"/>
<path d="M357.5 543C357 551 353 559 346.5 567" fill="none" stroke="#9a9a9a" stroke-width="1.1" filter="url(#b5a)"/>
<path d="M378.6 550C376.7 552.1 371.4 558 367.4 562.4C363.4 566.8 358.3 571.7 354.4 576.2C350.5 580.7 346.7 585.1 344 589.2C341.3 593.3 339.4 597.3 338.2 600.8C337 604.3 337.1 606 336.6 610C336.1 614 335.9 619 335.2 625C334.5 631 333 642.2 332.6 645.7 L329.4 646.4C329.6 642.8 330.1 631.1 330.4 625C330.7 618.9 331 614.2 331.4 610C331.8 605.8 331.6 603.6 332.6 599.8C333.6 596 334.9 591.7 337.6 587.2C340.3 582.7 344.6 577.7 348.6 573C352.6 568.3 357.6 563.3 361.6 559.2C365.6 555.1 370.8 550.4 372.6 548.6 Z" fill="#2e2e2e"/>
<path d="M329.4 646.4C329.6 642.8 330.1 631.1 330.4 625C330.7 618.9 331 614.2 331.4 610C331.8 605.8 331.6 603.6 332.6 599.8C333.6 596 334.9 591.7 337.6 587.2C340.3 582.7 344.6 577.7 348.6 573C352.6 568.3 357.6 563.3 361.6 559.2C365.6 555.1 370.8 550.4 372.6 548.6" fill="none" stroke="#777" stroke-width="1" filter="url(#b5a)"/>
<path d="M312 658.3L331.6 645.7L336.5 652L330 664L318 672L306 668Z" fill="#fbfbfb"/>
<path d="M312 658.3L331.6 645.7" fill="none" stroke="#8a8a8a" stroke-width="0.8"/>
<path d="M335.5 612L351 615.6L370.5 622.4L384 625.3L399.6 624.3L416 622L416 636L392 639.5L384 639.9L370.5 641.8L351 646.7L335.5 651.5L332.6 645.7Z" fill="url(#g5br)"/>
<g clip-path="url(#cp5a)"><path d="M334.0 616.0L384.0 626.5M334.5 618.6L384.0 627.5M335.0 621.2L384.0 628.5M335.5 623.8L384.0 629.5M336.0 626.4L384.0 630.5M336.5 629.0L384.0 631.5M337.0 631.6L384.0 632.5M337.5 634.2L384.0 633.5M338.0 636.8L384.0 634.5M338.5 639.4L384.0 635.5M339.0 642.0L384.0 636.5M339.5 644.6L384.0 637.5M340.0 647.2L384.0 638.5M340.5 649.8L384.0 639.5" fill="none" stroke="#555" stroke-width="0.6" opacity="0.6"/><path d="M378 625L416 622L416 637L386 640Z" fill="url(#g5arm)"/><path d="M392 634.6L416 632M392 638.8L416 636" fill="none" stroke="#222" stroke-width="1"/></g>
<path d="M335.5 612L351 615.6L370.5 622.4L384 625.3L399.6 624.3L414 622.4" fill="none" stroke="#2a2a2a" stroke-width="1.5" filter="url(#b5a)"/>
<path d="M378.3 628.4L387.4 630L390.6 640L381.4 639.6Z" fill="#3f3f3f"/></g>
  <g clip-path="url(#c6)"><path d="M590.4 552.2C590.7 551.9 591.4 550.7 592.3 550.4C593.2 550.1 595 550.1 596 550.6C597 551.1 598.2 552.2 598.6 553.2C599 554.2 599.2 554.4 598.5 556.5C597.8 558.6 596.8 561.9 594.2 566C591.6 570.1 587.3 576.6 582.8 581.4C578.3 586.2 571.9 591 567.4 594.8C562.9 598.6 558.7 602 556 604.4C553.3 606.8 551.9 607.4 551.4 609.1C550.9 610.9 551.3 612.8 553 614.9C554.7 617 558 618.9 561.7 621.6C565.4 624.3 571.3 627.7 575.1 631.2C578.9 634.7 582.5 638.5 584.7 642.6C586.9 646.7 587.6 650.8 588.5 656C589.4 661.2 594.5 669.7 589.8 674C585 678.3 565 680.7 560 682C550.5 682 512.5 682 503 682C503 675.8 503 651.2 503 645C505.3 643.1 514.7 635.4 517 633.5C529.2 620 578.2 565.8 590.4 552.2Z" fill="url(#g6f)"/>
<path d="M590.4 552.2C587.5 555 579.1 562.8 573 569C566.9 575.2 560.3 582.6 554 589.6C547.7 596.6 541.2 603.7 535 611C528.8 618.3 521.5 627.8 517 633.5C512.5 639.2 509.5 643.1 508 645" fill="none" stroke="#1e1e1e" stroke-width="1.2"/>
<path d="M598.5 556.5C597.8 558.1 596.8 561.9 594.2 566C591.6 570.1 587.3 576.6 582.8 581.4C578.3 586.2 571.9 591 567.4 594.8C562.9 598.6 558.7 602 556 604.4C553.3 606.8 551.9 607.4 551.4 609.1C550.9 610.9 551.3 612.8 553 614.9C554.7 617 558 618.9 561.7 621.6C565.4 624.3 571.3 627.7 575.1 631.2C578.9 634.7 582.5 638.5 584.7 642.6C586.9 646.7 587.6 650.8 588.5 656C589.4 661.2 589.6 671 589.8 674 L585.6 674C585.4 671.3 585.2 662.8 584.4 658C583.6 653.2 582.7 649.1 580.6 645C578.5 640.9 575.6 637.1 572 633.6C568.4 630.1 562.5 626.8 558.8 624C555.1 621.2 551.9 619 550 616.6C548.1 614.2 547.3 611.8 547.2 609.8C547.1 607.8 547.4 606.6 549.2 604.3C551 601.9 553.9 599.2 557.9 595.7C561.9 592.2 568.4 587.6 573.2 583.3C578 579 583.1 574 586.6 569.9C590.1 565.8 592.9 560.3 594.2 558.4 Z" fill="#b4b4b4"/>
<path d="M598.5 556.5C597.8 558.1 596.8 561.9 594.2 566C591.6 570.1 587.3 576.6 582.8 581.4C578.3 586.2 571.9 591 567.4 594.8C562.9 598.6 558.7 602 556 604.4C553.3 606.8 551.9 607.4 551.4 609.1C550.9 610.9 551.3 612.8 553 614.9C554.7 617 558 618.9 561.7 621.6C565.4 624.3 571.3 627.7 575.1 631.2C578.9 634.7 582.5 638.5 584.7 642.6C586.9 646.7 587.6 650.8 588.5 656C589.4 661.2 589.6 671 589.8 674" fill="none" stroke="#121212" stroke-width="1.7" filter="url(#b6a)"/>
<path d="M594.2 558.4C592.9 560.3 590.1 565.8 586.6 569.9C583.1 574 578 579 573.2 583.3C568.4 587.6 561.9 592.2 557.9 595.7C553.9 599.2 551 601.9 549.2 604.3C547.4 606.6 547.1 607.8 547.2 609.8C547.3 611.8 548.1 614.2 550 616.6C551.9 619 555.1 621.2 558.8 624C562.5 626.8 568.4 630.1 572 633.6C575.6 637.1 578.5 640.9 580.6 645C582.7 649.1 583.6 653.2 584.4 658C585.2 662.8 585.4 671.3 585.6 674" fill="none" stroke="#262626" stroke-width="1.1"/>
<path d="M566 634.5C567.4 635.8 572.4 639.4 574.6 642.5C576.8 645.6 577.9 649.4 579 653C580.1 656.6 580.6 660.5 581 664C581.4 667.5 581.5 672.3 581.6 674" fill="none" stroke="#333" stroke-width="0.9"/>
<path d="M556.4 602.6C555.4 603.6 551.4 606.4 550.6 608.4C549.8 610.4 550.5 612.6 551.6 614.6C552.7 616.6 556.4 619.4 557.4 620.4" fill="none" stroke="#111" stroke-width="3.6" stroke-linecap="round" filter="url(#b6a)"/>
<path d="M552 600C550.9 601.3 546.4 604.9 545.6 607.6C544.8 610.3 545.4 613.5 547 616.4C548.6 619.3 553.7 623.6 555 625" fill="none" stroke="#999" stroke-width="3" filter="url(#b1a)" opacity="0.7"/>
<path d="M590.4 552.2C592 550 596.4 550 598.6 553.2C599.4 554.6 599.1 555.6 598.5 556.5" fill="none" stroke="#1a1a1a" stroke-width="1.3"/>
<ellipse cx="541" cy="672" rx="36.6" ry="45.1" fill="#ffffff" stroke="#1f3df0" stroke-width="5"/>
<ellipse cx="541" cy="672" rx="34.2" ry="42.7" fill="none" stroke="#1027c4" stroke-width="0.8"/>
<ellipse cx="541" cy="672" rx="39.1" ry="47.6" fill="none" stroke="#1027c4" stroke-width="0.6"/></g>

  <g fill="none" stroke="#2b2b9c" stroke-width="1.4">
    <circle cx="121.1" cy="203" r="64.8"/>
    <circle cx="348.4" cy="203" r="64.8"/>
    <circle cx="573.9" cy="203" r="64.8"/>
    <circle cx="121.1" cy="608" r="64.8"/>
    <circle cx="348.4" cy="608" r="64.8"/>
    <circle cx="573.9" cy="608" r="64.8"/>
  </g>
</svg>
</body>
</html>
